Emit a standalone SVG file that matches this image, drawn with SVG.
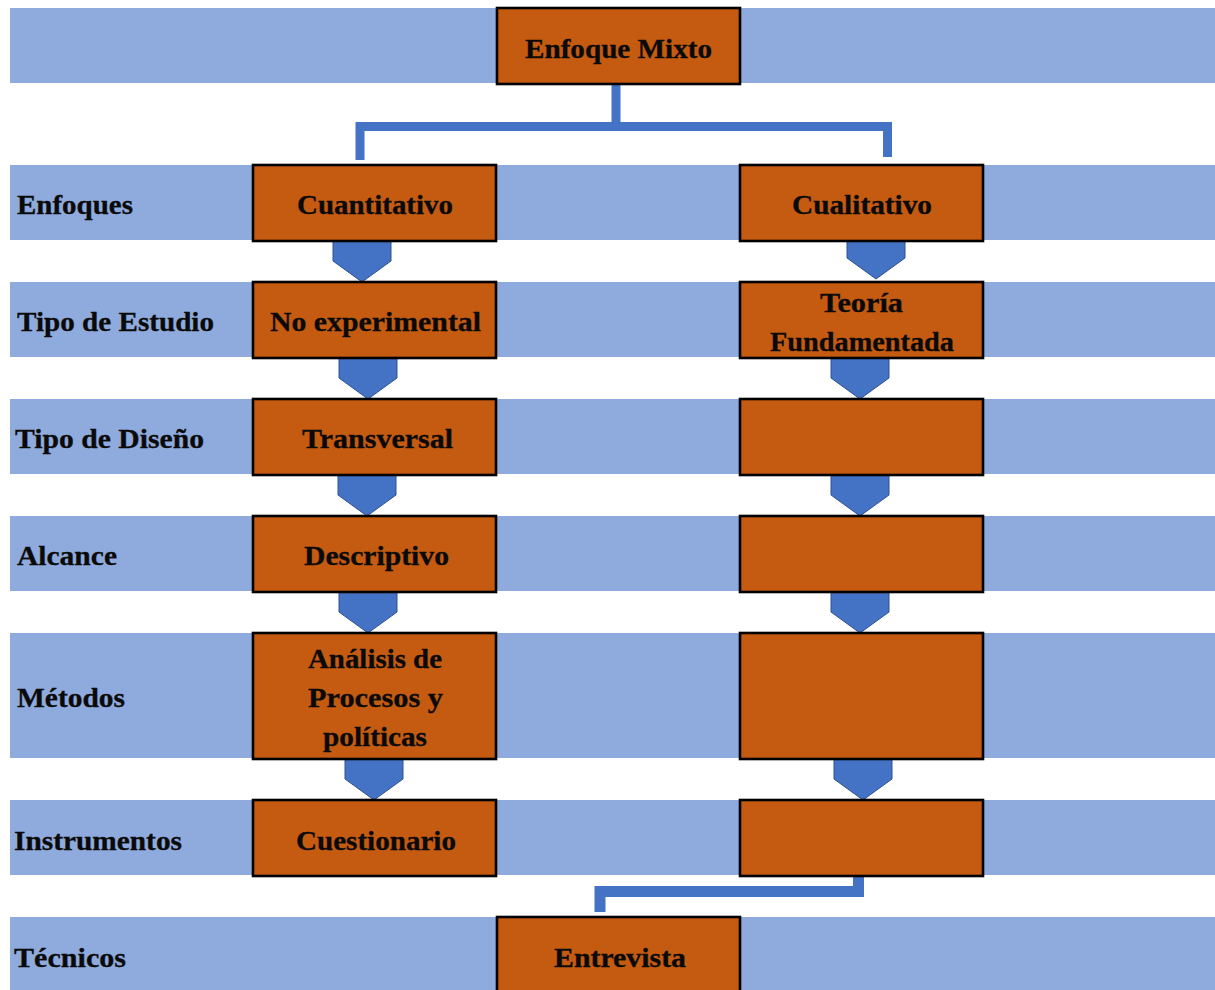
<svg xmlns="http://www.w3.org/2000/svg" width="1215" height="990" viewBox="0 0 1215 990">
  <style>
    .band { fill: #8FAADC; }
    .box { fill: #C55A11; stroke: #000; stroke-width: 2.6; }
    .txt { font-family: "Liberation Serif", "Times New Roman", serif; font-weight: bold; font-size: 27.5px; fill: #0A0A0A; stroke: #0A0A0A; stroke-width: 0.3; }
    .chev { fill: #4472C4; stroke: #2F528F; stroke-width: 1; }
    .elbow { fill: none; stroke: #4472C4; stroke-linejoin: miter; stroke-linecap: butt; }
  </style>
  <defs>
    <!-- down-pointing pentagon arrow, 58 wide, 41 tall -->
    <polygon id="chevron" class="chev" points="0,0 58,0 58,20 29,41 0,20"/>
  </defs>

  <!-- row bands -->
  <g id="bands">
    <rect class="band" x="10" y="8" width="1205" height="75"/>
    <rect class="band" x="10" y="165" width="1205" height="75"/>
    <rect class="band" x="10" y="282" width="1205" height="75"/>
    <rect class="band" x="10" y="399" width="1205" height="75"/>
    <rect class="band" x="10" y="516" width="1205" height="75"/>
    <rect class="band" x="10" y="633" width="1205" height="125"/>
    <rect class="band" x="10" y="800" width="1205" height="75"/>
    <rect class="band" x="10" y="917" width="1205" height="75"/>
  </g>

  <!-- row labels -->
  <g id="row-labels">
    <text class="txt" x="17" y="214" textLength="116" lengthAdjust="spacingAndGlyphs">Enfoques</text>
    <text class="txt" x="17" y="331" textLength="197" lengthAdjust="spacingAndGlyphs">Tipo de Estudio</text>
    <text class="txt" x="15" y="448" textLength="189" lengthAdjust="spacingAndGlyphs">Tipo de Diseño</text>
    <text class="txt" x="17" y="565" textLength="100" lengthAdjust="spacingAndGlyphs">Alcance</text>
    <text class="txt" x="17" y="707" textLength="108" lengthAdjust="spacingAndGlyphs">Métodos</text>
    <text class="txt" x="14" y="850" textLength="168" lengthAdjust="spacingAndGlyphs">Instrumentos</text>
    <text class="txt" x="14" y="967" textLength="112" lengthAdjust="spacingAndGlyphs">Técnicos</text>
  </g>

  <!-- connectors -->
  <g id="connectors">
    <path class="elbow" stroke-width="9" d="M616 84 V127"/>
    <path class="elbow" stroke-width="9" d="M360 160 V126.5 H887.5 V157"/>
    <path class="elbow" stroke-width="11" d="M858.5 876 V891.5 H600 V912"/>
    <use href="#chevron" x="333" y="241"/>
    <use href="#chevron" x="339" y="358"/>
    <use href="#chevron" x="338" y="475"/>
    <use href="#chevron" x="339" y="592"/>
    <use href="#chevron" x="345" y="759"/>
    <use href="#chevron" x="847" y="238"/>
    <use href="#chevron" x="831" y="358"/>
    <use href="#chevron" x="831" y="475"/>
    <use href="#chevron" x="831" y="592"/>
    <use href="#chevron" x="834" y="759"/>
  </g>

  <!-- nodes -->
  <g id="node-mixto">
    <rect class="box" x="497" y="8" width="243" height="76"/>
    <text class="txt" x="525" y="58" textLength="187" lengthAdjust="spacingAndGlyphs">Enfoque Mixto</text>
  </g>
  <g id="node-cuantitativo">
    <rect class="box" x="253" y="165" width="243" height="76"/>
    <text class="txt" x="297" y="214" textLength="156" lengthAdjust="spacingAndGlyphs">Cuantitativo</text>
  </g>
  <g id="node-cualitativo">
    <rect class="box" x="740" y="165" width="243" height="76"/>
    <text class="txt" x="792" y="214" textLength="140" lengthAdjust="spacingAndGlyphs">Cualitativo</text>
  </g>
  <g id="node-no-experimental">
    <rect class="box" x="253" y="282" width="243" height="76"/>
    <text class="txt" x="270" y="331" textLength="211" lengthAdjust="spacingAndGlyphs">No experimental</text>
  </g>
  <g id="node-teoria">
    <rect class="box" x="740" y="282" width="243" height="76"/>
    <text class="txt" x="820" y="312" textLength="83" lengthAdjust="spacingAndGlyphs">Teoría</text>
    <text class="txt" x="770" y="351" textLength="184" lengthAdjust="spacingAndGlyphs">Fundamentada</text>
  </g>
  <g id="node-transversal">
    <rect class="box" x="253" y="399" width="243" height="76"/>
    <text class="txt" x="302" y="448" textLength="151" lengthAdjust="spacingAndGlyphs">Transversal</text>
  </g>
  <g id="node-diseno-cual">
    <rect class="box" x="740" y="399" width="243" height="76"/>
  </g>
  <g id="node-descriptivo">
    <rect class="box" x="253" y="516" width="243" height="76"/>
    <text class="txt" x="304" y="565" textLength="145" lengthAdjust="spacingAndGlyphs">Descriptivo</text>
  </g>
  <g id="node-alcance-cual">
    <rect class="box" x="740" y="516" width="243" height="76"/>
  </g>
  <g id="node-analisis">
    <rect class="box" x="253" y="633" width="243" height="126"/>
    <text class="txt" x="308" y="668" textLength="134" lengthAdjust="spacingAndGlyphs">Análisis de</text>
    <text class="txt" x="308" y="707" textLength="135" lengthAdjust="spacingAndGlyphs">Procesos y</text>
    <text class="txt" x="323" y="746" textLength="104" lengthAdjust="spacingAndGlyphs">políticas</text>
  </g>
  <g id="node-metodos-cual">
    <rect class="box" x="740" y="633" width="243" height="126"/>
  </g>
  <g id="node-cuestionario">
    <rect class="box" x="253" y="800" width="243" height="76"/>
    <text class="txt" x="296" y="850" textLength="160" lengthAdjust="spacingAndGlyphs">Cuestionario</text>
  </g>
  <g id="node-instrumentos-cual">
    <rect class="box" x="740" y="800" width="243" height="76"/>
  </g>
  <g id="node-entrevista">
    <rect class="box" x="497" y="917" width="243" height="80"/>
    <text class="txt" x="554" y="967" textLength="132" lengthAdjust="spacingAndGlyphs">Entrevista</text>
  </g>
</svg>
